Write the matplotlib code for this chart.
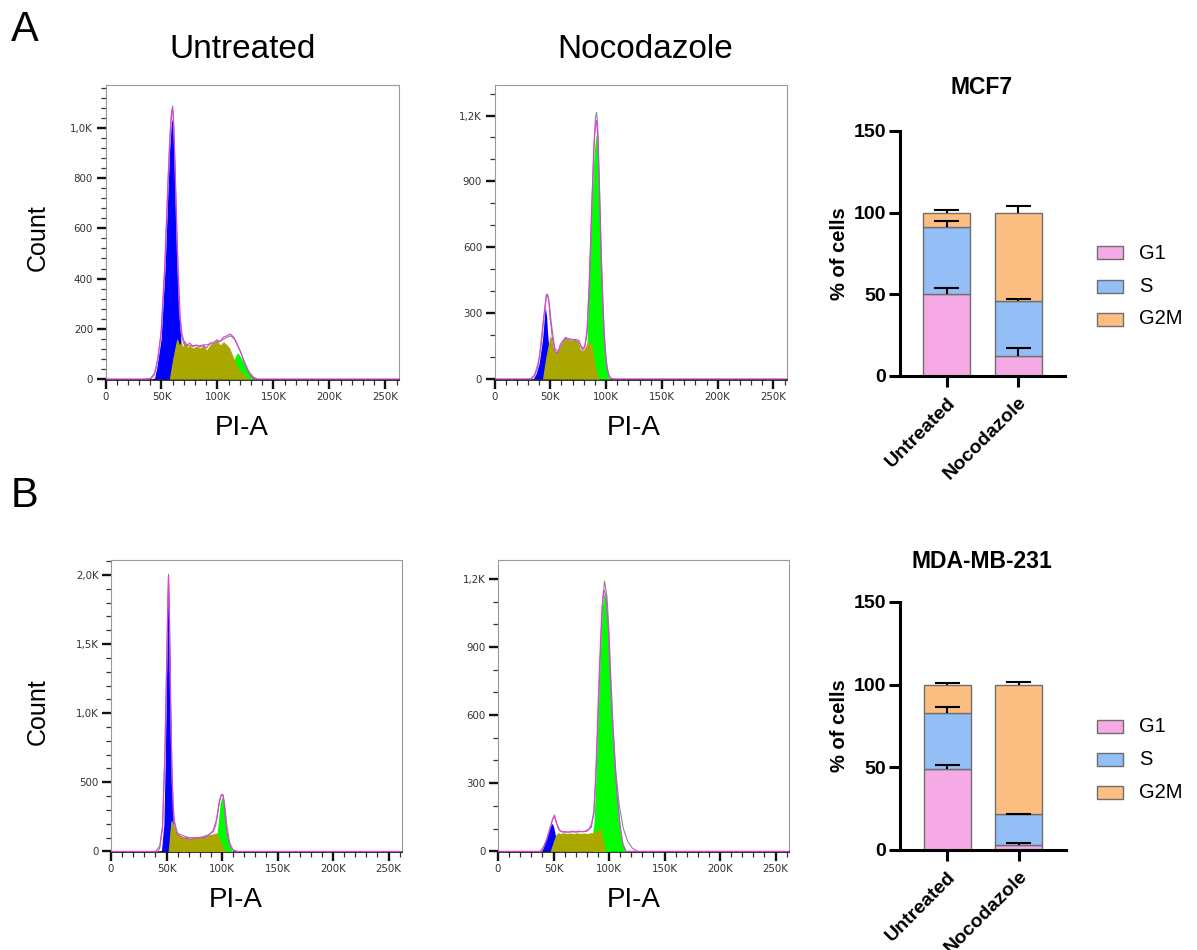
import numpy as np
import matplotlib
matplotlib.use("Agg")
import matplotlib.pyplot as plt
from matplotlib.patches import Rectangle
from matplotlib.ticker import FixedLocator, MultipleLocator

plt.rcParams["font.family"] = ["Liberation Sans", "DejaVu Sans"]

# ---------------------------------------------------------------------------
# DNA content histograms (PI-A in thousands, counts per channel)
# ---------------------------------------------------------------------------
# MCF7, untreated
mcf7_unt_g1_pi = [41.5, 43.9, 46.0, 49.7, 53.3, 55.5, 57.3, 58.8, 59.4, 60.3, 61.2, 62.4, 63.9, 65.8, 67.3, 69.0, 71.0]
mcf7_unt_g1_ct = [0, 5, 50, 160, 450, 716, 916, 1020, 1036, 1010, 916, 716, 450, 250, 156, 60, 0]
mcf7_unt_s_pi = [57.0, 60.0, 63.6, 64.5, 66.0, 67.6, 69.1, 70.6, 72.1, 73.6, 75.2, 78.2, 81.2, 84.2, 87.3, 90.3,
                 93.3, 96.4, 99.4, 102.4, 105.5, 108.5, 110.9, 114.5, 117.6, 122.1, 126.7, 131.2]
mcf7_unt_s_ct = [0, 80, 159, 156, 136, 149, 129, 153, 143, 127, 136, 123, 132, 123, 136, 116,
                 136, 143, 156, 136, 149, 136, 123, 83, 49, 23, 7, 0]
mcf7_unt_g2_pi = [110.0, 111.5, 113.9, 116.0, 117.6, 119.1, 122.1, 125.2, 128.2, 131.2, 134.2, 136.0]
mcf7_unt_g2_ct = [0, 36, 69, 89, 103, 100, 76, 49, 29, 12, 1, 0]
mcf7_unt_data_pi = [0.0, 38.0, 41.0, 43.5, 46.0, 49.5, 53.0, 55.3, 57.1, 58.7, 60.0, 61.4, 63.0, 64.8, 66.7, 68.2,
                    69.7, 72.1, 75.2, 78.2, 81.2, 84.2, 87.3, 90.3, 93.3, 96.4, 99.4, 102.4, 105.5, 108.5,
                    111.5, 114.5, 117.6, 120.6, 123.6, 126.7, 129.7, 132.7, 136.0, 262.0]
mcf7_unt_data_ct = [0, 0, 3, 15, 60, 175, 460, 730, 930, 1050, 1087, 960, 716, 450, 250, 183,
                    156, 132, 143, 129, 136, 127, 136, 123, 143, 145, 156, 149, 167, 172,
                    179, 167, 136, 109, 69, 36, 12, 1, 0, 0]
mcf7_unt_fit_pi = [36, 40, 44, 47, 50, 53, 56, 58, 59.5, 60.5, 62, 64, 66, 68, 70, 75, 85, 95, 102, 108,
                   112, 116, 120, 124, 128, 132, 136]
mcf7_unt_fit_ct = [0, 2, 25, 90, 200, 440, 800, 1000, 1075, 1060, 860, 520, 270, 170, 140, 133, 133, 140, 150, 165,
                   172, 155, 115, 70, 30, 8, 0]

# MCF7, nocodazole
mcf7_noc_g1_pi = [34.5, 37.0, 40.0, 43.0, 44.5, 45.5, 46.7, 47.6, 49.1, 50.6, 52.0]
mcf7_noc_g1_ct = [0, 20, 71, 177, 268, 329, 283, 208, 117, 50, 0]
mcf7_noc_s_pi = [43.0, 46.0, 49.7, 50.8, 52.6, 55.0, 57.4, 59.5, 61.7, 63.6, 65.8, 68.8, 71.8, 74.8, 76.9,
                 79.4, 81.8, 83.0, 85.5, 87.0, 88.5, 90.0, 91.5, 93.0, 94.5]
mcf7_noc_s_ct = [0, 100, 195, 189, 147, 124, 132, 155, 174, 188, 180, 177, 180, 174, 135,
                 129, 150, 165, 170, 155, 117, 71, 33, 11, 0]
mcf7_noc_g2_pi = [80.0, 81.8, 83.0, 83.9, 85.5, 87.3, 89.1, 90.6, 91.5, 92.4, 93.6, 94.8, 96.4, 98.2, 100.0, 102.1, 103.6]
mcf7_noc_g2_ct = [0, 56, 177, 359, 586, 814, 1011, 1101, 1117, 1071, 889, 632, 389, 177, 56, 11, 0]
mcf7_noc_data_pi = [0.0, 33.0, 36.0, 39.0, 42.0, 44.5, 46.5, 47.6, 49.0, 49.7, 52.1, 54.5, 56.7, 58.8, 61.2, 63.6,
                    65.8, 67.9, 70.3, 73.3, 75.8, 77.9, 79.4, 80.9, 83.0, 84.8, 86.4, 87.9, 89.4, 90.9,
                    91.5, 92.7, 93.9, 95.2, 97.0, 98.8, 100.6, 102.7, 105.2, 262.0]
mcf7_noc_data_ct = [0, 0, 15, 60, 160, 290, 375, 386, 340, 283, 177, 124, 117, 155, 174, 189,
                    183, 180, 177, 180, 174, 139, 132, 147, 208, 420, 662, 889, 1086, 1170,
                    1177, 1100, 889, 632, 359, 162, 56, 11, 0, 0]
mcf7_noc_fit_pi = [32, 36, 40, 44, 46.5, 48.5, 51, 54, 57, 60, 64, 70, 76, 79, 81, 83, 85, 87, 89, 90.5,
                   91.5, 92.5, 94, 96, 98, 100, 102, 104, 107]
mcf7_noc_fit_ct = [0, 18, 90, 280, 385, 370, 250, 140, 125, 160, 185, 180, 165, 140, 150, 230, 440, 760, 1050, 1190,
                   1215, 1150, 900, 520, 230, 90, 25, 5, 0]

# MDA-MB-231, untreated
mda_unt_g1_pi = [44.5, 45.5, 47.6, 48.8, 50.0, 50.9, 51.5, 52.4, 53.3, 54.2, 55.2, 56.1, 57.0, 58.5]
mda_unt_g1_ct = [0, 10, 195, 628, 1230, 1711, 1928, 1711, 1230, 748, 387, 195, 60, 0]
mda_unt_s_pi = [51.5, 53.9, 54.8, 56.1, 57.6, 59.1, 62.1, 65.2, 68.2, 71.2, 74.2, 77.3, 80.3, 83.3, 86.4,
                89.4, 92.4, 95.5, 98.5, 101.5, 103.9]
mda_unt_s_ct = [0, 219, 224, 195, 159, 135, 118, 103, 111, 94, 103, 111, 103, 111, 118,
                123, 128, 135, 75, 26, 0]
mda_unt_g2_pi = [94.0, 95.5, 97.0, 98.5, 99.7, 100.9, 101.5, 103.0, 104.5, 106.7, 109.1, 110.6]
mda_unt_g2_ct = [0, 123, 243, 351, 388, 390, 375, 243, 123, 39, 7, 0]
mda_unt_data_pi = [0.0, 42.0, 43.9, 46.4, 48.5, 50.0, 51.2, 51.8, 52.5, 53.0, 54.2, 55.2, 56.1, 57.6, 59.1, 62.1,
                   65.2, 68.2, 71.2, 74.2, 77.3, 80.3, 83.3, 86.4, 89.4, 92.4, 94.5, 96.4, 97.9, 99.4,
                   100.9, 102.1, 103.6, 105.2, 107.6, 110.6, 113.0, 262.0]
mda_unt_data_ct = [0, 0, 24, 170, 700, 1300, 1800, 2005, 1800, 1500, 869, 508, 291, 183, 135, 111,
                   99, 94, 87, 99, 94, 103, 94, 111, 128, 147, 195, 291, 375, 411,
                   411, 339, 195, 99, 31, 7, 0, 0]
mda_unt_fit_pi = [40, 44, 46.5, 48.5, 50, 51.2, 51.8, 52.5, 53.5, 55, 57, 60, 70, 80, 88, 92, 95, 97.5, 99.5,
                  101, 102.5, 104.5, 107, 110, 114]
mda_unt_fit_ct = [0, 40, 190, 690, 1280, 1800, 1990, 1780, 1150, 520, 220, 130, 100, 100, 120, 150, 230, 350, 410,
                  405, 330, 180, 60, 12, 0]

# MDA-MB-231, nocodazole
mda_noc_g1_pi = [39.4, 42.4, 45.5, 47.9, 49.1, 50.3, 51.5, 53.0, 54.5]
mda_noc_g1_ct = [0, 38, 89, 119, 122, 104, 75, 30, 0]
mda_noc_s_pi = [47.0, 50.0, 52.1, 53.9, 56.1, 59.1, 62.1, 65.2, 68.2, 71.2, 74.2, 77.3, 80.3, 83.3, 86.4,
                89.4, 91.5, 92.7, 93.9, 95.5, 97.0]
mda_noc_s_ct = [0, 45, 72, 82, 78, 82, 78, 81, 78, 82, 78, 81, 78, 82, 82,
                89, 104, 97, 67, 31, 0]
mda_noc_g2_pi = [83.0, 85.5, 86.4, 87.9, 89.4, 90.9, 92.7, 93.9, 95.2, 96.1, 97.3, 99.1, 100.6, 102.4, 104.5,
                 107.5, 110.2, 112.5, 115.0]
mda_noc_g2_ct = [0, 90, 119, 295, 500, 705, 939, 1071, 1130, 1137, 1100, 968, 793, 602, 412,
                 236, 104, 31, 0]
mda_noc_data_pi = [0.0, 39.0, 40.9, 43.9, 47.0, 49.1, 50.9, 52.4, 54.5, 57.6, 60.6, 63.6, 66.7, 69.7, 72.7, 75.8,
                   78.8, 81.8, 84.2, 86.4, 87.9, 89.4, 90.9, 92.7, 93.9, 95.5, 97.5, 99.5, 101.0, 102.8,
                   105.0, 107.5, 110.2, 112.6, 115.5, 262.0]
mda_noc_data_ct = [0, 0, 16, 53, 104, 141, 160, 133, 97, 85, 86, 84, 89, 86, 89, 86,
                   89, 97, 119, 177, 309, 529, 749, 968, 1086, 1152, 1120, 968, 793, 602,
                   412, 236, 104, 31, 0, 0]
mda_noc_fit_pi = [38, 41, 44, 47, 49.5, 51, 53, 56, 60, 70, 80, 84, 86.5, 89, 91, 93, 94.5, 96, 98.2, 100,
                  101.8, 103.6, 106.1, 109.1, 112.7, 116.7, 121.2, 125.8]
mda_noc_fit_ct = [0, 20, 55, 105, 145, 150, 120, 90, 85, 85, 88, 105, 170, 420, 700, 960, 1120, 1190, 1120, 968,
                  749, 558, 353, 207, 104, 45, 13, 0]

pi_ticks = [0, 50, 100, 150, 200, 250]
pi_tick_labels = ["0", "50K", "100K", "150K", "200K", "250K"]

# ---------------------------------------------------------------------------
# Cell-cycle phase distribution (% of cells, mean and upper error)
# ---------------------------------------------------------------------------
treatments = ["Untreated", "Nocodazole"]
phases = ["G1", "S", "G2M"]
mcf7_g1 = [50.0, 12.2]
mcf7_g1_err = [4.0, 5.1]
mcf7_s = [41.2, 33.9]
mcf7_s_err = [3.8, 1.2]
mcf7_g2m = [8.8, 53.9]
mcf7_g2m_err = [1.4, 4.3]
mda_g1 = [49.0, 3.0]
mda_g1_err = [2.6, 1.0]
mda_s = [34.0, 18.5]
mda_s_err = [3.4, 0.4]
mda_g2m = [17.0, 78.5]
mda_g2m_err = [0.8, 1.6]

# ---------------------------------------------------------------------------
W, H = 1197, 950
fig = plt.figure(figsize=(W / 100, H / 100), dpi=100)


def px_box(left, top, right, bottom):
    return [left / W, 1 - bottom / H, (right - left) / W, (bottom - top) / H]


def fig_text(x, y, s, **kw):
    fig.text(x / W, 1 - y / H, s, **kw)


HIST_BLUE = "#0000ff"
HIST_OLIVE = "#aaa800"
HIST_GREEN = "#00ff00"
HIST_DATA = "#e23ce2"
HIST_FIT = "#8a8a8a"


def histogram(box, g1, s, g2, data, fit, ylim, major, major_labels, minor_step):
    ax = fig.add_axes(px_box(*box))
    k = 1000.0
    ax.fill_between(np.asarray(g1[0]) * k, g1[1], color=HIST_BLUE, lw=0, zorder=2)
    ax.fill_between(np.asarray(g2[0]) * k, g2[1], color=HIST_GREEN, lw=0, zorder=3)
    ax.fill_between(np.asarray(s[0]) * k, s[1], color=HIST_OLIVE, lw=0, zorder=4)
    ax.plot(np.asarray(fit[0]) * k, fit[1], color=HIST_FIT, lw=0.8, zorder=5)
    ax.plot(np.asarray(data[0]) * k, data[1], color=HIST_DATA, lw=0.8, zorder=6)
    ax.set_xlim(0, 262144)
    ax.set_ylim(*ylim)

    ax.xaxis.set_major_locator(FixedLocator([t * k for t in pi_ticks]))
    ax.set_xticklabels(pi_tick_labels)
    ax.xaxis.set_minor_locator(MultipleLocator(10000))
    ax.yaxis.set_major_locator(FixedLocator(major))
    ax.set_yticklabels(major_labels)
    ax.yaxis.set_minor_locator(MultipleLocator(minor_step))

    for side in ("top", "right", "left"):
        ax.spines[side].set_color("#9a9a9a")
        ax.spines[side].set_linewidth(0.8)
    ax.spines["bottom"].set_color("#111111")
    ax.spines["bottom"].set_linewidth(1.2)
    ax.tick_params(which="major", length=6.5, width=1.7, color="#111111",
                   labelsize=7.4, labelcolor="#333333", pad=2.5)
    ax.tick_params(which="minor", length=3.5, width=0.9, color="#333333")
    for lab in ax.get_xticklabels() + ax.get_yticklabels():
        lab.set_fontfamily("DejaVu Sans")
    return ax


histogram((105.5, 85, 399, 380),
          (mcf7_unt_g1_pi, mcf7_unt_g1_ct), (mcf7_unt_s_pi, mcf7_unt_s_ct), (mcf7_unt_g2_pi, mcf7_unt_g2_ct),
          (mcf7_unt_data_pi, mcf7_unt_data_ct), (mcf7_unt_fit_pi, mcf7_unt_fit_ct),
          (-4, 1171), [0, 200, 400, 600, 800, 1000], ["0", "200", "400", "600", "800", "1,0K"], 40)
histogram((494.5, 85, 787, 380),
          (mcf7_noc_g1_pi, mcf7_noc_g1_ct), (mcf7_noc_s_pi, mcf7_noc_s_ct), (mcf7_noc_g2_pi, mcf7_noc_g2_ct),
          (mcf7_noc_data_pi, mcf7_noc_data_ct), (mcf7_noc_fit_pi, mcf7_noc_fit_ct),
          (-5, 1339), [0, 300, 600, 900, 1200], ["0", "300", "600", "900", "1,2K"], 100)
histogram((111, 560, 402, 852),
          (mda_unt_g1_pi, mda_unt_g1_ct), (mda_unt_s_pi, mda_unt_s_ct), (mda_unt_g2_pi, mda_unt_g2_ct),
          (mda_unt_data_pi, mda_unt_data_ct), (mda_unt_fit_pi, mda_unt_fit_ct),
          (-4, 2108), [0, 500, 1000, 1500, 2000], ["0", "500", "1,0K", "1,5K", "2,0K"], 100)
histogram((498, 560, 789, 852),
          (mda_noc_g1_pi, mda_noc_g1_ct), (mda_noc_s_pi, mda_noc_s_ct), (mda_noc_g2_pi, mda_noc_g2_ct),
          (mda_noc_data_pi, mda_noc_data_ct), (mda_noc_fit_pi, mda_noc_fit_ct),
          (-3, 1283), [0, 300, 600, 900, 1200], ["0", "300", "600", "900", "1,2K"], 100)

# Panel letters, column titles and axis names
fig_text(25, 30, "A", fontsize=30, ha="center", va="center")
fig_text(25, 496, "B", fontsize=30, ha="center", va="center")
fig_text(243, 50, "Untreated", fontsize=24, ha="center", va="center")
fig_text(645, 50, "Nocodazole", fontsize=24, ha="center", va="center")
for yc in (238, 712):
    fig_text(38, yc, "Count", fontsize=18, rotation=90, ha="center", va="center")
for xc, yc in ((242, 428), (634, 428), (236, 900), (634, 900)):
    fig_text(xc, yc, "PI-A", fontsize=20, ha="center", va="center")

# ---------------------------------------------------------------------------
PHASE_COLORS = ["#f5aae5", "#93bff6", "#fdbf81"]
BAR_EDGE = "#6e6e6e"


def stacked_bars(box, title, title_y, segs, errs, legend_y):
    ax = fig.add_axes(px_box(*box))
    x = np.arange(len(treatments))
    bottom = np.zeros(len(treatments))
    width = 0.66
    cap = 0.176
    for vals, err, color in zip(segs, errs, PHASE_COLORS):
        vals = np.asarray(vals)
        err = np.asarray(err)
        ax.bar(x, vals, width=width, bottom=bottom, color=color, edgecolor=BAR_EDGE,
               linewidth=1.0, zorder=2)
        top = bottom + vals
        ax.vlines(x, top, top + err, color="black", lw=1.5, zorder=4)
        ax.hlines(top + err, x - cap, x + cap, color="black", lw=1.5, zorder=4)
        bottom = top
    ax.set_xlim(-0.66, 1.66)
    ax.set_ylim(0, 150)
    ax.set_yticks([0, 50, 100, 150])
    ax.set_xticks(x)
    ax.set_xticklabels(treatments, rotation=45, ha="right", rotation_mode="anchor",
                       fontsize=14, fontweight="bold")
    for lab in ax.get_yticklabels():
        lab.set_fontweight("bold")
    ax.tick_params(axis="y", labelsize=14, length=8, width=2.2, pad=2)
    ax.tick_params(axis="x", length=8, width=2.2, pad=5)
    for side in ("top", "right"):
        ax.spines[side].set_visible(False)
    for side in ("left", "bottom"):
        ax.spines[side].set_linewidth(2.2)
    ax.set_ylabel("% of cells", fontsize=14.5, fontweight="bold", labelpad=3)
    fig_text(982, title_y, title, fontsize=16.5, fontweight="bold", ha="center", va="center")

    # Phase key
    for i, (name, color) in enumerate(zip(phases, PHASE_COLORS)):
        yc = legend_y + i * 33
        fig.add_artist(Rectangle(((1097) / W, 1 - (yc + 6.5) / H), 26 / W, 13 / H,
                                 facecolor=color, edgecolor=BAR_EDGE, linewidth=1.0))
        fig_text(1139, yc, name, fontsize=14.5, ha="left", va="center")
    return ax


stacked_bars((900, 131, 1065, 376), "MCF7", 88,
             [mcf7_g1, mcf7_s, mcf7_g2m], [mcf7_g1_err, mcf7_s_err, mcf7_g2m_err], 253)
stacked_bars((900, 602, 1066, 850), "MDA-MB-231", 562,
             [mda_g1, mda_s, mda_g2m], [mda_g1_err, mda_s_err, mda_g2m_err], 726.5)

fig.savefig("out.png", dpi=100)
